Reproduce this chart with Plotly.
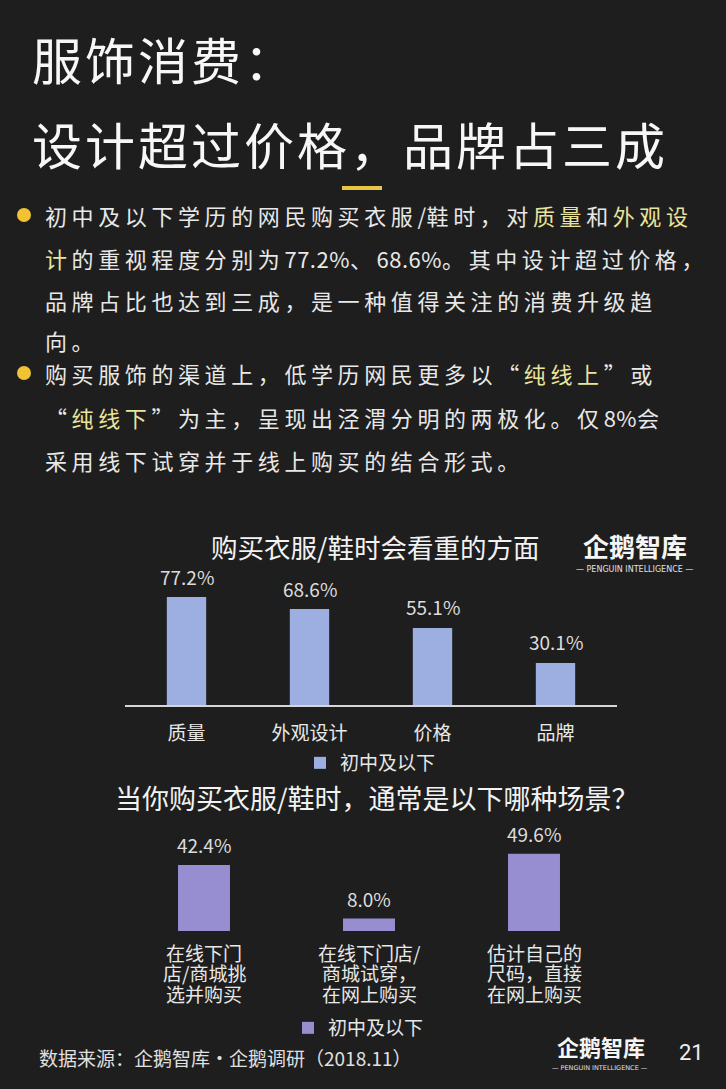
import re
import plotly.graph_objects as go

# ---------------- data ----------------
series_name = "初中及以下"

cats1 = ["质量", "外观设计", "价格", "品牌"]
vals1 = [77.2, 68.6, 55.1, 30.1]

cats2_lines = [
    ["在线下门", "店/商城挑", "选并购买"],
    ["在线下门店/", "商城试穿，", "在网上购买"],
    ["估计自己的", "尺码，直接", "在网上购买"],
]
cats2 = ["".join(l) for l in cats2_lines]
vals2 = [42.4, 8.0, 49.6]

title_lines = ["服饰消费：", "设计超过价格，品牌占三成"]
chart1_title = "购买衣服/鞋时会看重的方面"
chart2_title = "当你购买衣服/鞋时，通常是以下哪种场景？"
source_text = "数据来源：企鹅智库·企鹅调研（2018.11）"
page_no = "21"

N, Y = "n", "y"
para_lines = [
    [("初中及以下学历的网民购买衣服/鞋时，对", N), ("质量", Y), ("和", N), ("外观设", Y)],
    [("计", Y), ("的重视程度分别为77.2%、68.6%。其中设计超过价格，", N)],
    [("品牌占比也达到三成，是一种值得关注的消费升级趋", N)],
    [("向。", N)],
    [("购买服饰的渠道上，低学历网民更多以“", N), ("纯线上", Y), ("”或", N)],
    [("“", N), ("纯线下", Y), ("”为主，呈现出泾渭分明的两极化。仅8%会", N)],
    [("采用线下试穿并于线上购买的结合形式。", N)],
]

# ---------------- styling ----------------
W, H = 726, 1089
BG = "#1e1e1e"
FONT = "Noto Sans CJK SC"
TXT = "#e8e8e8"
HL = "#e9e49b"
BAR1 = "#9cafe0"
BAR2 = "#978ed1"
GOLD = "#f1c232"


def px(x):
    return x / W


def py(y):
    return 1 - y / H


def spaced(seg, color):
    parts = re.split(r"([0-9.%/]+)", seg)
    out = []
    for p in parts:
        if not p:
            continue
        ls = "0.5px" if re.fullmatch(r"[0-9.%/]+", p) else "4.6px"
        out.append(f'<span style="letter-spacing:{ls};color:{color}">{p}</span>')
    return "".join(out)


fig = go.Figure()

fig.add_trace(go.Bar(
    x=cats1, y=vals1, width=0.32, marker=dict(color=BAR1, line=dict(width=0)),
    name=series_name, xaxis="x", yaxis="y", legend="legend", hoverinfo="x+y",
))
fig.add_trace(go.Bar(
    x=cats2, y=vals2, width=0.315, marker=dict(color=BAR2, line=dict(width=0)),
    name=series_name, xaxis="x2", yaxis="y2", legend="legend2", hoverinfo="y",
))

ann = []


def paper_text(x, y, text, size, color="#f2f2f2", family=FONT, xanchor="center"):
    ann.append(dict(x=px(x), y=py(y), xref="paper", yref="paper", xanchor=xanchor, yanchor="middle",
                    text=text, showarrow=False, font=dict(family=family, size=size, color=color)))


# value labels
for c, v in zip(cats1, vals1):
    ann.append(dict(x=c, y=v, xref="x", yref="y", text=f"{v:.1f}%", showarrow=False,
                    xanchor="center", yanchor="middle", yshift=21,
                    font=dict(family=FONT, size=19, color="#dcdcdc")))
for c, v in zip(cats2, vals2):
    ann.append(dict(x=c, y=v, xref="x2", yref="y2", text=f"{v:.1f}%", showarrow=False,
                    xanchor="center", yanchor="middle", yshift=20,
                    font=dict(family=FONT, size=19, color="#dcdcdc")))

# chart 2 category labels (tight line spacing, one annotation per line)
for c, lines in zip(cats2, cats2_lines):
    for i, ln in enumerate(lines):
        ann.append(dict(x=c, y=0, xref="x2", yref="y2", text=ln, showarrow=False,
                        xanchor="center", yanchor="middle", yshift=-(21 + 20.5 * i),
                        font=dict(family=FONT, size=19, color=TXT)))

# page title
for t, yy in zip(title_lines, [58, 143]):
    paper_text(30, yy, f'<span style="letter-spacing:3px">{t}</span>', 50, "#f7f7f7", xanchor="left")

# bullet paragraphs
line_y = [215, 258, 300, 340, 373, 417, 460]
for segs, yy in zip(para_lines, line_y):
    txt = "".join(spaced(s, HL if k == Y else TXT) for s, k in segs)
    paper_text(43, yy, txt, 22, TXT, xanchor="left")

# chart titles
paper_text(375, 546, chart1_title, 26.5)
paper_text(377, 797, chart2_title, 27)

# logos
paper_text(635, 545, "<b>企鹅智库</b>", 26, "#f5f5f5")
paper_text(634, 569, "— PENGUIN INTELLIGENCE —", 8, "#e0e0e0", family="DejaVu Sans")
paper_text(601, 1046, "<b>企鹅智库</b>", 22, "#f5f5f5")
paper_text(600, 1068, "— PENGUIN INTELLIGENCE —", 6.5, "#e0e0e0", family="DejaVu Sans")

# footer
paper_text(37, 1057, source_text, 19, "#e0e0e0", xanchor="left")
paper_text(691, 1052, page_no, 22, "#f0f0f0", family="Roboto")

shapes = [
    dict(type="rect", xref="paper", yref="paper", x0=px(342), x1=px(382), y0=py(190), y1=py(186),
         fillcolor="#e9c545", line=dict(width=0)),
    dict(type="circle", xref="paper", yref="paper", x0=px(17), x1=px(31), y0=py(222), y1=py(208),
         fillcolor=GOLD, line=dict(width=0)),
    dict(type="circle", xref="paper", yref="paper", x0=px(17), x1=px(31), y0=py(380), y1=py(366),
         fillcolor=GOLD, line=dict(width=0)),
]

fig.update_layout(
    width=W, height=H,
    margin=dict(l=0, r=0, t=0, b=0),
    paper_bgcolor=BG, plot_bgcolor=BG,
    font=dict(family=FONT, color=TXT),
    annotations=ann,
    shapes=shapes,
    xaxis=dict(domain=[px(125), px(617)], range=[-0.5, 3.5], anchor="y",
               showline=True, linecolor="#d6d6d6", linewidth=1.5, showgrid=False, zeroline=False,
               ticks="outside", ticklen=10, tickcolor="rgba(0,0,0,0)",
               tickfont=dict(family=FONT, size=19, color=TXT), fixedrange=True),
    yaxis=dict(domain=[py(705), py(705 - 139.9)], range=[0, 100], visible=False, fixedrange=True),
    xaxis2=dict(domain=[px(121.5), px(616.5)], range=[-0.5, 2.5], anchor="y2",
                showline=False, showgrid=False, zeroline=False, showticklabels=False, fixedrange=True),
    yaxis2=dict(domain=[py(931), py(931 - 155.7)], range=[0, 100], visible=False, fixedrange=True),
    legend=dict(orientation="h", x=px(300), xanchor="left", y=py(763), yanchor="middle",
                bgcolor="rgba(0,0,0,0)", font=dict(family=FONT, size=19, color=TXT)),
    legend2=dict(orientation="h", x=px(288), xanchor="left", y=py(1028), yanchor="middle",
                 bgcolor="rgba(0,0,0,0)", font=dict(family=FONT, size=19, color=TXT)),
    showlegend=True,
)

fig.write_html("out.html", config={"displayModeBar": False},
               post_script="document.body.style.margin='0px';")
